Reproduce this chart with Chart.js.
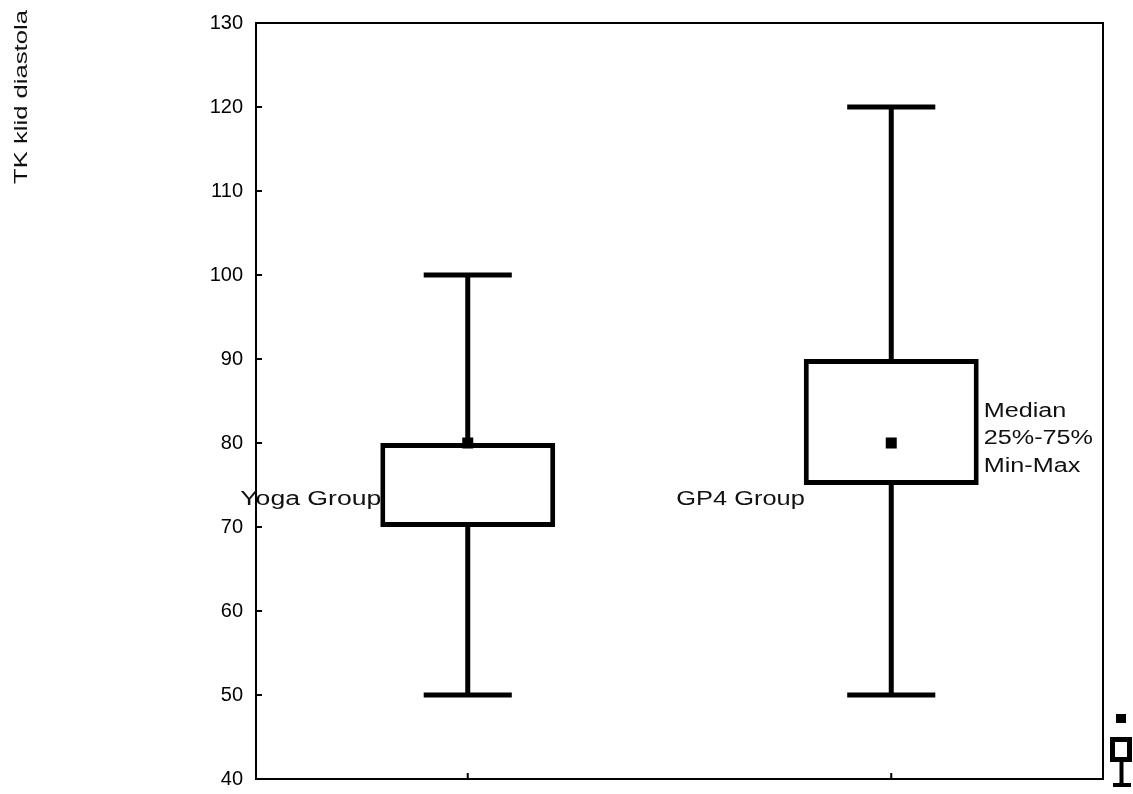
<!DOCTYPE html>
<html>
<head>
<meta charset="utf-8">
<script src="https://cdn.jsdelivr.net/npm/chart.js@4"></script>
<style>
  html, body { margin: 0; padding: 0; background: #ffffff; }
  #wrap { width: 1133px; height: 794px; }
</style>
</head>
<body>
<div id="wrap"><canvas id="chart" width="1133" height="794"></canvas></div>
<script>
// Diastolic resting blood pressure by group
const categories = ['Yoga Group', 'GP4 Group'];
const minValues = [50, 50];
const q1Values = [70, 75];
const medianValues = [80, 80];
const q3Values = [80, 90];
const maxValues = [100, 120];
const yTickValues = [40, 50, 60, 70, 80, 90, 100, 110, 120, 130];
const legendLines = ['Median', '25%-75%', 'Min-Max'];
const axisTitle = 'TK klid diastola';

const FONT = '"Liberation Sans", Arial, sans-serif';
const INK = '#000000';
const TEXT = '#111111';

function stretchedText(ctx, text, x, y, align, sx) {
  ctx.save();
  ctx.translate(x, y);
  ctx.scale(sx, 1);
  ctx.textAlign = align;
  ctx.fillText(text, 0, 0);
  ctx.restore();
}

const boxPlotDecor = {
  id: 'boxPlotDecor',
  afterDatasetsDraw(chart) {
    const ctx = chart.ctx;
    const a = chart.chartArea;
    const xs = chart.scales.x;
    const ys = chart.scales.y;
    const step = xs.getPixelForValue(1) - xs.getPixelForValue(0);
    const capHalf = step * 0.104;

    ctx.save();
    // plot frame
    ctx.strokeStyle = INK;
    ctx.lineWidth = 2;
    ctx.strokeRect(a.left, a.top, a.right - a.left, a.bottom - a.top);

    // inward tick marks
    ctx.lineWidth = 2;
    ctx.beginPath();
    yTickValues.forEach(v => {
      const y = ys.getPixelForValue(v);
      ctx.moveTo(a.left, y);
      ctx.lineTo(a.left + 6, y);
    });
    categories.forEach((c, i) => {
      const x = xs.getPixelForValue(i);
      ctx.moveTo(x, a.bottom);
      ctx.lineTo(x, a.bottom - 6);
    });
    ctx.stroke();

    // whiskers and caps
    ctx.lineWidth = 5;
    ctx.lineCap = 'butt';
    categories.forEach((c, i) => {
      const x = xs.getPixelForValue(i);
      const yMin = ys.getPixelForValue(minValues[i]);
      const yMax = ys.getPixelForValue(maxValues[i]);
      const yQ1 = ys.getPixelForValue(q1Values[i]);
      const yQ3 = ys.getPixelForValue(q3Values[i]);
      ctx.beginPath();
      ctx.moveTo(x, yMax); ctx.lineTo(x, yQ3);
      ctx.moveTo(x, yQ1); ctx.lineTo(x, yMin);
      ctx.moveTo(x - capHalf, yMax); ctx.lineTo(x + capHalf, yMax);
      ctx.moveTo(x - capHalf, yMin); ctx.lineTo(x + capHalf, yMin);
      ctx.stroke();
      // median marker
      const yMed = ys.getPixelForValue(medianValues[i]);
      ctx.fillStyle = INK;
      ctx.fillRect(x - 5.5, yMed - 5.5, 11, 11);
    });

    // group labels beside each box
    const meta = chart.getDatasetMeta(0);
    ctx.fillStyle = TEXT;
    ctx.font = '20px ' + FONT;
    ctx.textBaseline = 'alphabetic';
    const labelY = a.top + (a.bottom - a.top) * 0.638;
    categories.forEach((c, i) => {
      const bar = meta.data[i];
      const left = bar.x - bar.width / 2;
      stretchedText(ctx, c, left + 1, labelY, 'right', i === 0 ? 1.33 : 1.27);
    });

    // legend text
    const lastBar = meta.data[categories.length - 1];
    const lx = lastBar.x + lastBar.width / 2 + 5;
    ctx.textBaseline = 'middle';
    legendLines.forEach((t, k) => {
      stretchedText(ctx, t, lx, a.top + 388 + k * 27.5, 'left', 1.26);
    });

    // legend symbols to the right of the frame
    const sx = a.right;
    const sy = a.bottom;
    ctx.fillStyle = INK;
    ctx.fillRect(sx + 13, sy - 65, 10, 9);
    ctx.lineWidth = 5;
    ctx.strokeRect(sx + 9.5, sy - 39.5, 17, 20);
    ctx.lineWidth = 4;
    ctx.beginPath();
    ctx.moveTo(sx + 18.5, sy - 17); ctx.lineTo(sx + 18.5, sy + 6);
    ctx.moveTo(sx + 10, sy + 6); ctx.lineTo(sx + 28, sy + 6);
    ctx.stroke();

    // y axis title
    ctx.fillStyle = TEXT;
    ctx.font = '19px ' + FONT;
    ctx.save();
    ctx.translate(22, 97);
    ctx.rotate(-Math.PI / 2);
    ctx.scale(1.35, 1);
    ctx.textAlign = 'center';
    ctx.textBaseline = 'middle';
    ctx.fillText(axisTitle, 0, 0);
    ctx.restore();

    ctx.restore();
  }
};

new Chart(document.getElementById('chart'), {
  type: 'bar',
  data: {
    labels: categories,
    datasets: [{
      label: '25%-75%',
      data: categories.map((c, i) => [q1Values[i], q3Values[i]]),
      backgroundColor: '#ffffff',
      borderColor: INK,
      borderWidth: 5,
      borderSkipped: false,
      barPercentage: 0.413,
      categoryPercentage: 1
    }]
  },
  options: {
    responsive: false,
    animation: false,
    layout: { padding: { top: 23, right: 30, left: 0, bottom: 0 } },
    plugins: { legend: { display: false }, tooltip: { enabled: false } },
    scales: {
      x: {
        type: 'category',
        offset: true,
        grid: { display: false, drawTicks: false },
        ticks: { display: false },
        border: { display: true, color: INK, width: 2 },
        afterFit(scale) { scale.height = 15; }
      },
      y: {
        min: 40,
        max: 130,
        afterBuildTicks(scale) { scale.ticks = yTickValues.map(v => ({ value: v })); },
        grid: { display: false, drawTicks: false },
        border: { display: true, color: INK, width: 2 },
        ticks: {
          padding: 13,
          color: '#000000',
          font: { family: FONT, size: 20 }
        },
        afterFit(scale) {
          scale.width = 256;
          scale.paddingTop = 0;
          scale.paddingBottom = 0;
        }
      }
    }
  },
  plugins: [boxPlotDecor]
});
</script>
</body>
</html>
